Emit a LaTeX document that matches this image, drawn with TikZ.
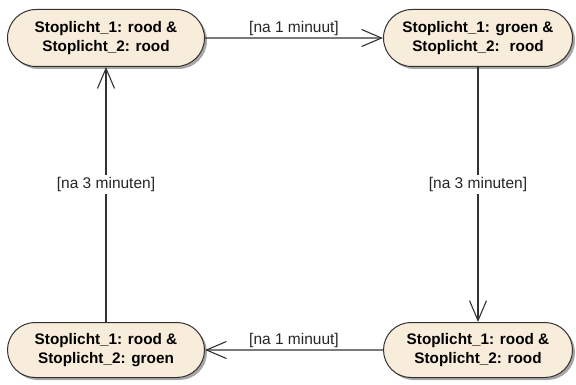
\documentclass[tikz,border=0pt]{standalone}
\usepackage{fontspec}
\setmainfont{Liberation Sans}
\usetikzlibrary{arrows.meta, positioning, shapes.misc, shadows}

\definecolor{statefill}{RGB}{248,236,218}
\definecolor{lijn}{RGB}{50,50,50}

\begin{document}
\begin{tikzpicture}[x=1pt, y=-1pt, -{Straight Barb[length=20pt,width=17pt]}, line width=1.1pt, draw=lijn]
  \tikzstyle{state} = [rounded rectangle, draw=lijn, line width=1pt, fill=statefill, align=center,
    inner sep=0pt, minimum height=57pt, font=\fontsize{15.3}{19}\selectfont\bfseries,
    drop shadow={shadow xshift=2.5pt, shadow yshift=-2.5pt, opacity=0.35, fill=black}]
  \tikzstyle{wacht} = [font=\fontsize{15.5}{18}\selectfont, text=black!85]

  \useasboundingbox (0,0) rectangle (576,385);

  \node[state, minimum width=197pt] (RoodRood) at (106,38) {Stoplicht\_1: rood \&\\Stoplicht\_2: rood};
  \node[state, minimum width=189pt] (GroenRood) at (478,38) {Stoplicht\_1: groen \&\\Stoplicht\_2: \ rood};
  \node[state, minimum width=189pt, minimum height=55pt] (RoodRood2) at (478,350) {Stoplicht\_1: rood \&\\Stoplicht\_2: rood};
  \node[state, minimum width=197pt, minimum height=55pt] (RoodGroen) at (106,350) {Stoplicht\_1: rood \&\\Stoplicht\_2: groen};

  \draw (RoodRood) -- node[wacht, above, inner sep=2pt] {[na 1 minuut]} (GroenRood);
  \draw (GroenRood) -- node[wacht, fill=white, inner sep=2pt, pos=0.46] {[na 3 minuten]} (RoodRood2);
  \draw (RoodRood2) -- node[wacht, above, inner sep=2pt] {[na 1 minuut]} (RoodGroen);
  \draw (RoodGroen) -- node[wacht, fill=white, inner sep=2pt, pos=0.54] {[na 3 minuten]} (RoodRood);
\end{tikzpicture}
\end{document}
